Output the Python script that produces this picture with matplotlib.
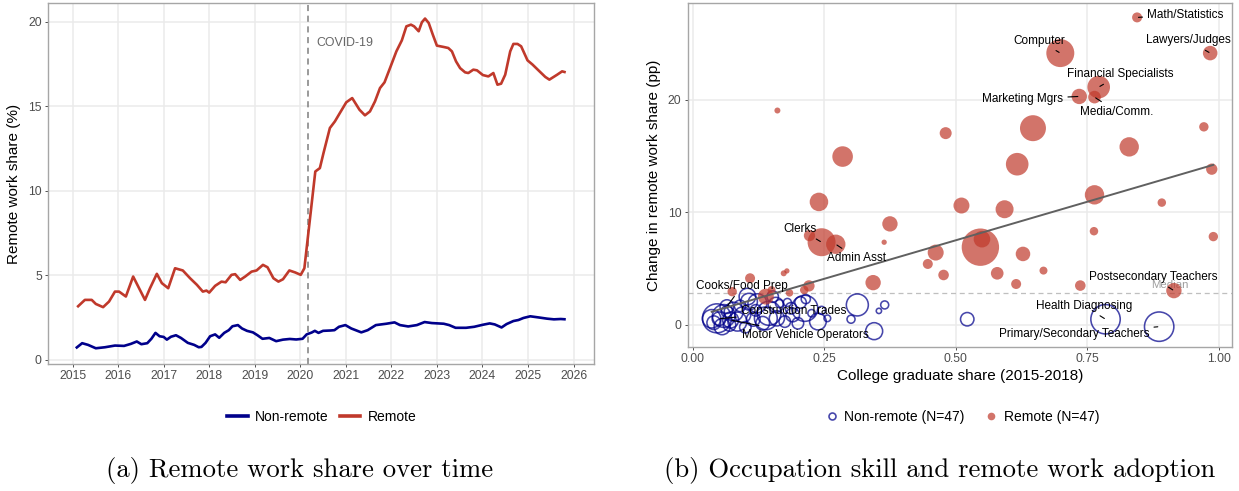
import numpy as np
import matplotlib
matplotlib.use("Agg")
import matplotlib.pyplot as plt
from matplotlib.lines import Line2D

# ---------------- data: panel (a) ----------------
# remote-work share (%) by date (decimal year)
remote_t = [2015.10, 2015.27, 2015.42, 2015.51, 2015.67, 2015.80, 2015.93, 2016.02, 2016.17, 2016.33,
            2016.59, 2016.70, 2016.85, 2016.96, 2017.10, 2017.25, 2017.42, 2017.58, 2017.73, 2017.86,
            2017.94, 2018.00, 2018.13, 2018.27, 2018.36, 2018.49, 2018.57, 2018.68, 2018.79, 2018.93,
            2019.04, 2019.18, 2019.28, 2019.41, 2019.52, 2019.62, 2019.76, 2019.89, 2020.01, 2020.09,
            2020.33, 2020.43, 2020.51, 2020.65, 2020.76, 2020.87, 2021.01, 2021.14, 2021.30, 2021.42,
            2021.53, 2021.64, 2021.75, 2021.85, 2021.97, 2022.11, 2022.23, 2022.33, 2022.43, 2022.50,
            2022.60, 2022.67, 2022.74, 2022.82, 2022.91, 2023.00, 2023.15, 2023.25, 2023.33, 2023.42,
            2023.51, 2023.62, 2023.69, 2023.80, 2023.88, 2024.01, 2024.13, 2024.24, 2024.33, 2024.41,
            2024.50, 2024.61, 2024.68, 2024.77, 2024.85, 2024.99, 2025.10, 2025.23, 2025.38, 2025.47,
            2025.64, 2025.75, 2025.83]
remote_share = [3.12, 3.55, 3.55, 3.31, 3.12, 3.45, 4.04, 4.04, 3.75, 4.93,
                3.55, 4.24, 5.09, 4.54, 4.24, 5.42, 5.29, 4.83, 4.44, 4.04,
                4.10, 3.98, 4.38, 4.63, 4.59, 5.03, 5.07, 4.73, 4.93, 5.22,
                5.29, 5.62, 5.48, 4.83, 4.63, 4.77, 5.29, 5.17, 5.03, 5.42,
                11.14, 11.34, 12.23, 13.71, 14.10, 14.60, 15.23, 15.48, 14.79, 14.46,
                14.69, 15.28, 16.07, 16.41, 17.25, 18.24, 18.89, 19.72, 19.82, 19.72,
                19.43, 19.96, 20.18, 19.92, 19.23, 18.58, 18.50, 18.44, 18.24, 17.65,
                17.25, 17.00, 16.96, 17.16, 17.12, 16.84, 16.76, 16.96, 16.27, 16.33,
                16.86, 18.24, 18.68, 18.68, 18.54, 17.71, 17.46, 17.12, 16.73, 16.57,
                16.86, 17.06, 17.00]

nonremote_t = [2015.07, 2015.21, 2015.34, 2015.51, 2015.71, 2015.93, 2016.13, 2016.28, 2016.41, 2016.51,
               2016.64, 2016.73, 2016.82, 2016.91, 2017.00, 2017.07, 2017.16, 2017.27, 2017.38, 2017.53,
               2017.67, 2017.77, 2017.83, 2017.92, 2018.02, 2018.13, 2018.22, 2018.33, 2018.43, 2018.51,
               2018.63, 2018.72, 2018.83, 2018.96, 2019.06, 2019.17, 2019.32, 2019.47, 2019.62, 2019.77,
               2019.91, 2020.05, 2020.14, 2020.25, 2020.32, 2020.40, 2020.50, 2020.66, 2020.75, 2020.85,
               2020.99, 2021.12, 2021.34, 2021.48, 2021.66, 2021.89, 2022.07, 2022.19, 2022.37, 2022.56,
               2022.73, 2022.89, 2023.15, 2023.27, 2023.41, 2023.64, 2023.82, 2024.01, 2024.16, 2024.27,
               2024.42, 2024.53, 2024.68, 2024.79, 2024.90, 2025.05, 2025.24, 2025.42, 2025.57, 2025.72,
               2025.83]
nonremote_share = [0.69, 0.99, 0.89, 0.69, 0.75, 0.85, 0.83, 0.95, 1.09, 0.93,
                   0.99, 1.25, 1.60, 1.40, 1.36, 1.20, 1.37, 1.46, 1.30, 1.01,
                   0.89, 0.75, 0.77, 1.01, 1.40, 1.51, 1.31, 1.60, 1.76, 1.99,
                   2.06, 1.86, 1.72, 1.63, 1.46, 1.25, 1.30, 1.11, 1.20, 1.24,
                   1.21, 1.25, 1.51, 1.62, 1.72, 1.60, 1.72, 1.74, 1.76, 1.96,
                   2.06, 1.86, 1.63, 1.76, 2.06, 2.14, 2.22, 2.06, 1.98, 2.06,
                   2.24, 2.18, 2.14, 2.06, 1.90, 1.90, 1.96, 2.08, 2.16, 2.10,
                   1.92, 2.12, 2.30, 2.36, 2.48, 2.58, 2.51, 2.44, 2.40, 2.42,
                   2.40]

covid_start = 2020.164
year_ticks = list(range(2015, 2027))

# ---------------- data: panel (b) ----------------
# remote occupations: college share, change in remote share (pp), employment (millions)
rem_x = [0.161, 0.481, 0.285, 0.240, 0.511, 0.593, 0.375, 0.222, 0.245, 0.272,
         0.364, 0.462, 0.447, 0.477, 0.547, 0.550, 0.579, 0.109, 0.173, 0.179,
         0.343, 0.221, 0.212, 0.184, 0.139, 0.075, 0.845, 0.699, 0.984, 0.772,
         0.735, 0.764, 0.647, 0.972, 0.830, 0.617, 0.987, 0.764, 0.892, 0.763,
         0.990, 0.628, 0.667, 0.615, 0.737, 0.915, 0.150]
rem_y = [19.05, 17.04, 14.96, 10.93, 10.61, 10.28, 8.98, 7.94, 7.35, 7.17,
         7.35, 6.43, 5.42, 4.44, 6.91, 7.62, 4.59, 4.15, 4.59, 4.80,
         3.76, 3.47, 3.11, 2.85, 2.52, 2.96, 27.32, 24.15, 24.15, 21.13,
         20.30, 20.24, 17.48, 17.60, 15.82, 14.28, 13.84, 11.56, 10.87, 8.33,
         7.85, 6.31, 4.83, 3.64, 3.50, 3.05, 3.10]
rem_emp = [0.09, 0.36, 1.06, 0.86, 0.64, 0.81, 0.59, 0.32, 1.96, 0.94,
           0.07, 0.64, 0.25, 0.28, 3.50, 0.69, 0.40, 0.25, 0.09, 0.07,
           0.59, 0.32, 0.18, 0.14, 0.64, 0.22, 0.25, 1.96, 0.53, 1.28,
           0.59, 0.40, 1.69, 0.22, 0.94, 1.28, 0.32, 0.94, 0.18, 0.18,
           0.22, 0.53, 0.16, 0.25, 0.28, 0.59, 0.16]
rem_label = ["", "", "", "", "", "", "", "", "Clerks", "Admin Asst",
             "", "", "", "", "", "", "", "", "", "",
             "", "", "", "", "", "", "Math/Statistics", "Computer", "Lawyers/Judges", "Financial Specialists",
             "Marketing Mgrs", "Media/Comm.", "", "", "", "", "", "", "", "",
             "", "", "", "", "", "Postsecondary Teachers", ""]

# non-remote occupations
non_x = [0.256, 0.301, 0.313, 0.354, 0.365, 0.345, 0.522, 0.785, 0.887, 0.046,
         0.059, 0.036, 0.078, 0.085, 0.056, 0.107, 0.123, 0.145, 0.133, 0.158,
         0.139, 0.187, 0.200, 0.213, 0.226, 0.238, 0.190, 0.104, 0.152, 0.050,
         0.072, 0.065, 0.070, 0.095, 0.115, 0.040, 0.065, 0.120, 0.175, 0.215,
         0.180, 0.090, 0.100, 0.165, 0.245, 0.160, 0.205]
non_y = [0.59, 0.51, 1.78, 1.25, 1.78, -0.55, 0.51, 0.51, -0.15, 0.59,
         0.80, 0.55, 1.18, 0.30, -0.15, 2.07, 1.93, 1.04, 0.15, 1.78,
         0.59, 1.48, 0.15, 1.48, 1.04, 0.30, 0.89, 2.52, 2.52, 0.55,
         0.44, 1.63, 0.00, 0.90, 0.50, 0.20, 1.20, 1.30, 0.30, 2.30,
         2.00, 1.70, -0.20, 1.90, 1.30, 0.59, 2.00]
non_emp = [0.11, 0.16, 1.21, 0.07, 0.16, 0.72, 0.45, 2.16, 2.16, 2.10,
           1.30, 0.85, 0.90, 0.90, 0.65, 0.70, 0.90, 1.45, 0.47, 0.58,
           1.30, 0.33, 0.33, 1.70, 0.14, 0.69, 0.47, 0.69, 0.33, 0.47,
           0.64, 0.47, 0.39, 0.64, 0.47, 0.47, 0.33, 0.33, 0.33, 0.21,
           0.16, 0.33, 0.33, 0.16, 0.16, 0.58, 0.33]
non_label = [""] * 47
non_label[7] = "Health Diagnosing"
non_label[8] = "Primary/Secondary Teachers"
non_label[29] = "Construction Trades"
non_label[30] = "Motor Vehicle Operators"
non_label[31] = "Cooks/Food Prep"

# summary statistics shown on panel (b)
median_change = 2.82          # median change across all occupations (pp)
fit_intercept = 0.68          # linear fit: change = a + b * college share
fit_slope = 13.68

# ---------------- styling / layout ----------------
SANS = ["Liberation Sans", "DejaVu Sans"]
plt.rcParams["font.family"] = SANS
C_BLUE = "#00008B"
C_RED = "#C0392B"
GRID = "#EBEBEB"
BORDER = "#A6A6A6"
TICKTXT = "#4D4D4D"

# label offsets (points) relative to the labelled point
label_offsets = {
    "Math/Statistics": (34.9, 1.9), "Computer": (-15.1, 8.9), "Lawyers/Judges": (-15.7, 9.1),
    "Financial Specialists": (15.5, 9.1), "Marketing Mgrs": (-40.8, -1.9), "Media/Comm.": (15.8, -10.4),
    "Clerks": (-15.6, 9.4), "Admin Asst": (15.1, -10.1), "Cooks/Food Prep": (10.8, 14.9),
    "Construction Trades": (53.9, 5.3), "Motor Vehicle Operators": (54.0, -10.6),
    "Postsecondary Teachers": (-15.0, 9.6), "Health Diagnosing": (-15.3, 9.6),
    "Primary/Secondary Teachers": (-61.4, -5.5),
}

W, H = 1239, 491
fig = plt.figure(figsize=(W / 100, H / 100), dpi=100)


def style_axes(ax):
    ax.set_facecolor("white")
    for s in ax.spines.values():
        s.set_color(BORDER)
        s.set_linewidth(1.0)
    ax.grid(True, color=GRID, linewidth=1.1, zorder=0)
    ax.set_axisbelow(True)
    ax.tick_params(axis="both", colors="#333333", labelcolor=TICKTXT, labelsize=8.8,
                   length=2.5, width=0.6, pad=2)


# ---------- panel (a) ----------
axa = fig.add_axes([48 / W, 1 - 364 / H, (594 - 48) / W, (364 - 3) / H])
style_axes(axa)
axa.plot(nonremote_t, nonremote_share, color=C_BLUE, lw=1.9, solid_joinstyle="round",
         solid_capstyle="butt", zorder=3, label="Non-remote")
axa.plot(remote_t, remote_share, color=C_RED, lw=1.9, solid_joinstyle="round",
         solid_capstyle="butt", zorder=3, label="Remote")
axa.axvline(covid_start, color="#7F7F7F", lw=1.1, ls=(0, (4, 3)), zorder=2)
axa.text(covid_start + 0.19, 18.74, "COVID-19", color="#666666", fontsize=8.9,
         ha="left", va="center")
axa.set_xlim(2014.46, 2026.45)
axa.set_ylim(-0.24, 21.1)
axa.set_xticks(year_ticks)
axa.set_yticks([0, 5, 10, 15, 20])
axa.set_ylabel("Remote work share (%)", fontsize=11, color="black", labelpad=5)

handles_a = [Line2D([], [], color=C_BLUE, lw=2.6), Line2D([], [], color=C_RED, lw=2.6)]
fig.legend(handles_a, ["Non-remote", "Remote"], loc="center", ncol=2, frameon=False,
           bbox_to_anchor=(322 / W, 1 - 417 / H), fontsize=10, handlelength=1.45,
           handletextpad=0.55, columnspacing=0.8)

# ---------- panel (b) ----------
axb = fig.add_axes([687.7 / W, 1 - 346.7 / H, (1232 - 687.7) / W, (346.7 - 3) / H])
style_axes(axb)
AREA = 207.0  # points^2 per million workers

all_x = np.array(rem_x + non_x)
axb.axhline(median_change, color="#BFBFBF", lw=0.9, ls=(0, (4, 3)), zorder=1)
axb.text(0.908, median_change + 0.74, "Median", color="#9E9E9E", fontsize=8.2,
         ha="center", va="center", zorder=1)

axb.scatter(non_x, non_y, s=np.array(non_emp) * AREA, facecolors="none",
            edgecolors=C_BLUE, linewidths=1.15, alpha=0.72, zorder=3)
axb.scatter(rem_x, rem_y, s=np.array(rem_emp) * AREA, color=C_RED, edgecolors="none",
            alpha=0.7, zorder=4)

xs = np.array([all_x.min(), all_x.max()])
axb.plot(xs, fit_intercept + fit_slope * xs, color="#606060", lw=1.4, zorder=5)

for xs_, ys_, labs in ((rem_x, rem_y, rem_label), (non_x, non_y, non_label)):
    for x, y, lab in zip(xs_, ys_, labs):
        if not lab:
            continue
        dx, dy = label_offsets[lab]
        axb.annotate(lab, xy=(x, y), xytext=(dx, dy), textcoords="offset points",
                     ha="center", va="center", fontsize=8.5, color="black", zorder=6,
                     arrowprops=dict(arrowstyle="-", color="black", lw=0.8,
                                     shrinkA=1.5, shrinkB=1.0))

axb.set_xlim(-0.0096, 1.0255)
axb.set_ylim(-1.93, 28.6)
axb.set_xticks([0, 0.25, 0.5, 0.75, 1.0])
axb.set_xticklabels(["0.00", "0.25", "0.50", "0.75", "1.00"])
axb.set_yticks([0, 10, 20])
axb.set_xlabel("College graduate share (2015-2018)", fontsize=11, labelpad=3)
axb.set_ylabel("Change in remote work share (pp)", fontsize=11, labelpad=5)

handles_b = [Line2D([], [], ls="none", marker="o", ms=5, mfc="none", mec=C_BLUE, mew=1.2, alpha=0.72),
             Line2D([], [], ls="none", marker="o", ms=5.5, mfc=C_RED, mec="none", alpha=0.7)]
fig.legend(handles_b, [f"Non-remote (N={len(non_x)})", f"Remote (N={len(rem_x)})"],
           loc="center", ncol=2, frameon=False, bbox_to_anchor=(962 / W, 1 - 417 / H),
           fontsize=10, handlelength=1.0, handletextpad=0.4, columnspacing=1.4)

# ---------- captions ----------
fig.text(300 / W, 1 - 470 / H, "(a) Remote work share over time", family="cmr10",
         fontsize=19.2, ha="center", va="center")
fig.text(940 / W, 1 - 470 / H, "(b) Occupation skill and remote work adoption", family="cmr10",
         fontsize=19.2, ha="center", va="center")

fig.savefig("out.png", dpi=100, facecolor="white")
